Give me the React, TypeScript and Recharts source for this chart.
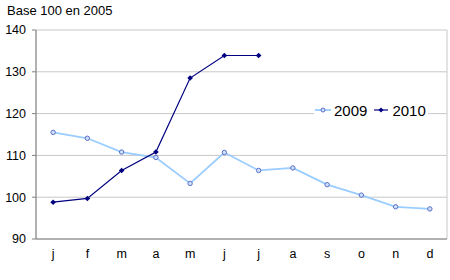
import React from "react";
import { LineChart, Line, XAxis, YAxis, CartesianGrid } from "recharts";

const months = ["j", "f", "m", "a", "m", "j", "j", "a", "s", "o", "n", "d"];
const values2009 = [115.5, 114.1, 110.8, 109.5, 103.3, 110.7, 106.4, 107.0, 103.0, 100.5, 97.7, 97.2];
const values2010 = [98.8, 99.7, 106.4, 110.8, 128.5, 133.9, 133.9];
const yTicks = [90, 100, 110, 120, 130, 140];
const title = "Base 100 en 2005";
const seriesNames = ["2009", "2010"];

const data = months.map((m, i) => ({
  x: i + 0.5,
  m,
  y2009: values2009[i],
  y2010: i < values2010.length ? values2010[i] : null,
}));
const gridTicks = months.map((_, i) => i).concat([months.length]);
const labelTicks = months.map((_, i) => i + 0.5);

const FONT = "'Liberation Sans', Arial, sans-serif";
const C2009 = "#99ccff";
const C2009M = "#5a70c8";
const C2010 = "#000080";

const Dot2009 = (p: any) => {
  if (p.cx == null || p.cy == null || p.value == null) return null;
  return <circle key={p.index} cx={p.cx} cy={p.cy} r={2.2} fill="#cfe0ff" stroke={C2009M} strokeWidth={1} />;
};
const Dot2010 = (p: any) => {
  if (p.cx == null || p.cy == null || p.value == null) return null;
  const s = 2.8;
  return (
    <path
      key={p.index}
      d={`M${p.cx},${p.cy - s}L${p.cx + s},${p.cy}L${p.cx},${p.cy + s}L${p.cx - s},${p.cy}Z`}
      fill={C2010}
    />
  );
};

export default function App() {
  return (
    <div style={{ position: "absolute", left: 0, top: 0, width: 450, height: 280, background: "#fff", fontFamily: FONT }}>
      <div style={{ position: "absolute", left: 7, top: 3, fontSize: 13, color: "#000", whiteSpace: "nowrap" }}>{title}</div>
      <LineChart width={450} height={280} data={data} margin={{ top: 30, right: 3, bottom: 10, left: 0 }}>
        <CartesianGrid xAxisId="grid" stroke="#c8c8c8" strokeWidth={1} />
        <XAxis
          xAxisId="grid"
          dataKey="x"
          type="number"
          domain={[0, 12]}
          ticks={gridTicks}
          tick={false}
          tickSize={4}
          axisLine={{ stroke: "#808080" }}
          tickLine={{ stroke: "#808080" }}
          height={1}
          interval={0}
        />
        <XAxis
          xAxisId="lab"
          dataKey="x"
          type="number"
          domain={[0, 12]}
          ticks={labelTicks}
          tickFormatter={(v: number) => months[Math.round(v - 0.5)]}
          axisLine={false}
          tickLine={false}
          tickSize={4}
          tickMargin={5}
          interval={0}
          tick={{ fontSize: 12.5, fill: "#000", fontFamily: FONT }}
          height={30}
        />
        <YAxis
          domain={[90, 140]}
          ticks={yTicks}
          width={36}
          tickSize={4}
          tickMargin={6}
          interval={0}
          axisLine={{ stroke: "#808080" }}
          tickLine={{ stroke: "#808080" }}
          tick={{ fontSize: 12.5, fill: "#000", fontFamily: FONT }}
        />
        <Line
          xAxisId="lab"
          dataKey="y2009"
          stroke={C2009}
          strokeWidth={1.8}
          dot={<Dot2009 />}
          activeDot={false}
          isAnimationActive={false}
        />
        <Line
          xAxisId="lab"
          dataKey="y2010"
          stroke={C2010}
          strokeWidth={1.2}
          dot={<Dot2010 />}
          activeDot={false}
          connectNulls={false}
          isAnimationActive={false}
        />
      </LineChart>
      <div
        style={{
          position: "absolute",
          left: 314,
          top: 99,
          width: 114,
          height: 22,
          background: "#fff",
          display: "flex",
          alignItems: "center",
          fontSize: 15,
          color: "#000",
        }}
      >
        <svg width={18} height={10} style={{ marginLeft: 1 }}>
          <line x1={0} y1={5} x2={16} y2={5} stroke={C2009} strokeWidth={1.8} />
          <circle cx={8} cy={5} r={2} fill="#cfe0ff" stroke={C2009M} strokeWidth={1} />
        </svg>
        <span style={{ marginLeft: 1 }}>{seriesNames[0]}</span>
        <svg width={16} height={10} style={{ marginLeft: 7 }}>
          <line x1={0} y1={5} x2={14} y2={5} stroke={C2010} strokeWidth={1.2} />
          <path d="M7,2.5L9.5,5L7,7.5L4.5,5Z" fill={C2010} />
        </svg>
        <span style={{ marginLeft: 2 }}>{seriesNames[1]}</span>
      </div>
    </div>
  );
}
